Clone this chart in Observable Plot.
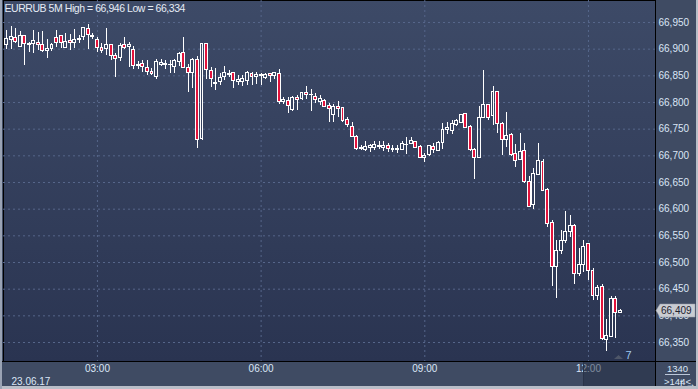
<!DOCTYPE html>
<html><head><meta charset="utf-8">
<script src="https://cdn.jsdelivr.net/npm/d3@7"></script>
<script src="https://cdn.jsdelivr.net/npm/@observablehq/plot@0.6"></script>
<style>
html,body{margin:0;padding:0;background:#3f4b63;}
#chart{width:698px;height:389px;overflow:hidden;}
.ttl text{letter-spacing:-0.45px;}
</style></head><body><div id="chart"></div>
<script>
const times = [
"01:15","01:20","01:25","01:30","01:35","01:40","01:45","01:50","01:55",
"02:00","02:05","02:10","02:15","02:20","02:25","02:30","02:35","02:40","02:45","02:50","02:55",
"03:00","03:05","03:10","03:15","03:20","03:25","03:30","03:35","03:40","03:45","03:50","03:55",
"04:00","04:05","04:10","04:15","04:20","04:25","04:30","04:35","04:40","04:45","04:50","04:55",
"05:00","05:05","05:10","05:15","05:20","05:25","05:30","05:35","05:40","05:45","05:50","05:55",
"06:00","06:05","06:10","06:15","06:20","06:25","06:30","06:35","06:40","06:45","06:50","06:55",
"07:00","07:05","07:10","07:15","07:20","07:25","07:30","07:35","07:40","07:45","07:50","07:55",
"08:00","08:05","08:10","08:15","08:20","08:25","08:30","08:35","08:40","08:45","08:50","08:55",
"09:00","09:05","09:10","09:15","09:20","09:25","09:30","09:35","09:40","09:45","09:50","09:55",
"10:00","10:05","10:10","10:15","10:20","10:25","10:30","10:35","10:40","10:45","10:50","10:55",
"11:00","11:05","11:10","11:15","11:20","11:25","11:30","11:35","11:40","11:45","11:50","11:55",
"12:00","12:05","12:10","12:15","12:20","12:25","12:30","12:35"
];
const open = [
66.883,66.908,66.918,66.921,66.905,66.925,66.908,66.910,66.912,
66.907,66.897,66.900,66.921,66.924,66.902,66.916,66.911,66.917,66.922,66.938,66.923,
66.918,66.902,66.900,66.908,66.888,66.883,66.907,66.905,66.899,66.869,66.872,66.865,
66.857,66.847,66.871,66.871,66.870,66.867,66.876,66.892,66.865,66.855,66.880,66.732,
66.910,66.859,66.836,66.838,66.847,66.854,66.855,66.838,66.838,66.841,66.854,66.848,
66.852,66.846,66.854,66.850,66.854,66.801,66.802,66.786,66.809,66.807,66.818,66.814,
66.811,66.801,66.802,66.794,66.776,66.792,66.790,66.767,66.755,66.736,66.712,66.711,
66.715,66.715,66.719,66.715,66.718,66.711,66.711,66.711,66.720,66.722,66.726,66.717,
66.696,66.701,66.717,66.710,66.724,66.748,66.746,66.757,66.761,66.779,66.755,66.711,
66.696,66.771,66.796,66.774,66.819,66.760,66.729,66.739,66.703,66.693,66.709,66.651,
66.607,66.665,66.688,66.636,66.574,66.491,66.521,66.541,66.558,66.568,66.479,66.496,
66.534,66.485,66.438,66.455,66.355,66.360,66.432,66.405
];
const high = [
66.914,66.935,66.942,66.938,66.933,66.925,66.913,66.935,66.932,
66.933,66.919,66.910,66.935,66.925,66.929,66.927,66.937,66.925,66.940,66.946,66.930,
66.922,66.910,66.939,66.908,66.891,66.910,66.922,66.913,66.905,66.876,66.879,66.879,
66.863,66.880,66.880,66.878,66.878,66.880,66.894,66.922,66.872,66.882,66.886,66.909,
66.910,66.865,66.863,66.854,66.868,66.860,66.857,66.851,66.851,66.859,66.857,66.857,
66.855,66.854,66.855,66.857,66.861,66.810,66.810,66.811,66.813,66.819,66.830,66.824,
66.816,66.813,66.805,66.798,66.797,66.801,66.791,66.772,66.763,66.738,66.719,66.726,
66.722,66.726,66.726,66.726,66.724,66.719,66.719,66.726,66.735,66.735,66.727,66.719,
66.704,66.719,66.724,66.726,66.760,66.763,66.766,66.769,66.778,66.780,66.757,66.713,
66.793,66.860,66.797,66.830,66.821,66.763,66.782,66.741,66.721,66.741,66.723,66.661,
66.676,66.724,66.693,66.638,66.578,66.541,66.560,66.595,66.588,66.571,66.526,66.541,
66.535,66.488,66.457,66.459,66.394,66.436,66.436,66.411
];
const low = [
66.880,66.900,66.900,66.910,66.904,66.869,66.894,66.891,66.897,
66.893,66.883,66.896,66.904,66.901,66.901,66.897,66.901,66.910,66.916,66.900,66.919,
66.894,66.891,66.888,66.879,66.847,66.876,66.900,66.866,66.861,66.861,66.857,66.851,
66.851,66.844,66.868,66.861,66.854,66.854,66.867,66.865,66.819,66.826,66.713,66.729,
66.843,66.829,66.822,66.832,66.842,66.847,66.827,66.832,66.830,66.832,66.832,66.834,
66.832,66.844,66.838,66.844,66.797,66.796,66.780,66.784,66.785,66.804,66.805,66.784,
66.798,66.794,66.790,66.763,66.763,66.772,66.763,66.754,66.734,66.710,66.710,66.709,
66.707,66.710,66.711,66.709,66.707,66.707,66.704,66.710,66.703,66.721,66.713,66.696,
66.688,66.698,66.704,66.709,66.711,66.740,66.740,66.755,66.760,66.751,66.709,66.655,
66.696,66.771,66.766,66.757,66.742,66.701,66.716,66.698,66.679,66.691,66.649,66.603,
66.599,66.663,66.634,66.565,66.455,66.432,66.515,66.536,66.547,66.458,66.474,66.482,
66.466,66.429,66.429,66.354,66.334,66.359,66.357,66.404
];
const close = [
66.914,66.919,66.922,66.913,66.925,66.910,66.910,66.916,66.907,
66.896,66.900,66.907,66.912,66.911,66.913,66.912,66.918,66.920,66.940,66.927,66.924,
66.902,66.896,66.907,66.888,66.882,66.906,66.902,66.907,66.869,66.870,66.867,66.857,
66.854,66.876,66.875,66.872,66.871,66.877,66.891,66.865,66.855,66.880,66.730,66.909,
66.861,66.844,66.835,66.846,66.855,66.851,66.840,66.843,66.844,66.855,66.847,66.851,
66.849,66.852,66.849,66.855,66.801,66.804,66.793,66.809,66.805,66.818,66.814,66.815,
66.804,66.807,66.791,66.788,66.792,66.788,66.766,66.757,66.735,66.713,66.714,66.717,
66.719,66.721,66.716,66.719,66.713,66.713,66.713,66.722,66.721,66.727,66.715,66.696,
66.699,66.719,66.711,66.724,66.749,66.752,66.760,66.765,66.776,66.753,66.711,66.696,
66.771,66.796,66.771,66.819,66.760,66.729,66.738,66.702,66.691,66.707,66.651,66.605,
66.666,66.690,66.635,66.573,66.491,66.521,66.541,66.558,66.569,66.478,66.496,66.530,
66.485,66.438,66.452,66.357,66.363,66.432,66.405,66.409
];
const yTicks = [66.35,66.40,66.45,66.50,66.55,66.60,66.65,66.70,66.75,66.80,66.85,66.90,66.95];
const xTicks = ["03:00","06:00","09:00","12:00"];
const title = "EURRUB 5M High = 66,946 Low = 66,334";
const dateLabel = "23.06.17";
const lastPrice = 66.409;
const barsLabel = "7";
const infoTop = "1340";
const infoBottom = ">144<";

const toMin = s => { const [h, m] = s.split(":").map(Number); return h * 60 + m; };
const fmt = v => v.toFixed(3).replace(".", ",");
const pad = n => String(n).padStart(2, "0");
const fmtTime = m => pad(Math.floor(m / 60)) + ":" + pad(m % 60);
const data = times.map((t, i) => ({t: toMin(t), o: open[i], h: high[i], l: low[i], c: close[i]}));
const up = data.filter(d => d.c >= d.o);
const down = data.filter(d => d.c < d.o);

const RED = "#e2133c";
const GRID = "#56668a";
const TXT = "#dbe6f6";
const FONT = "'Liberation Sans', Arial, sans-serif";

const chart = Plot.plot({
  width: 698, height: 389,
  marginLeft: 3, marginRight: 43, marginTop: 0, marginBottom: 28,
  x: {type: "linear", domain: [76.7, 793.7]},
  y: {domain: [66.3144, 66.99125]},
  style: {background: "#3f4b63", color: TXT, fontFamily: FONT, fontSize: "10px"},
  marks: [
    Plot.frame({fill: "url(#bg)", stroke: "#000"}),
    Plot.gridY(yTicks, {stroke: GRID, strokeOpacity: 1, strokeDasharray: "2,3"}),
    Plot.gridX(xTicks.map(toMin), {stroke: GRID, strokeOpacity: 1, strokeDasharray: "2,3"}),
    Plot.ruleX(data, {x: "t", y1: "h", y2: d => Math.max(d.o, d.c), stroke: "#fff", strokeWidth: 1, clip: true, shapeRendering: "crispEdges"}),
    Plot.ruleX(data, {x: "t", y1: d => Math.min(d.o, d.c), y2: "l", stroke: "#fff", strokeWidth: 1, clip: true, shapeRendering: "crispEdges"}),
    Plot.rect(up, {x1: d => d.t - 1.6, x2: d => d.t + 1.6, y1: "o", y2: "c", fill: "none", stroke: "#fff", strokeWidth: 1, clip: true, shapeRendering: "crispEdges"}),
    Plot.rect(down, {x1: d => d.t - 1.6, x2: d => d.t + 1.6, y1: "o", y2: "c", fill: RED, stroke: "#fff", strokeWidth: 1, clip: true, shapeRendering: "crispEdges"}),
    Plot.axisY(yTicks, {anchor: "right", tickSize: 0, tickPadding: 3, tickFormat: fmt, fill: TXT, fontSize: 10}),
    Plot.axisX(xTicks.map(toMin), {anchor: "bottom", tickSize: 0, tickPadding: 3, tickFormat: fmtTime, fill: TXT, fontSize: 10}),
    Plot.text([title], {frameAnchor: "top-left", dx: 1, dy: 8, textAnchor: "start", lineAnchor: "middle", fill: "#e6ecf5", fontSize: 10.5, className: "ttl"}),
    Plot.text([dateLabel], {frameAnchor: "bottom-left", dx: 8, dy: 20, textAnchor: "start", lineAnchor: "middle", fill: TXT, fontSize: 10}),
    Plot.text([barsLabel], {frameAnchor: "bottom-right", dx: -27, dy: -6, textAnchor: "middle", lineAnchor: "middle", fill: "#9fc8f0", fontSize: 11}),
    Plot.text([infoTop], {frameAnchor: "bottom-right", dx: 22, dy: 7, textAnchor: "middle", lineAnchor: "middle", fill: TXT, fontSize: 9.5}),
    Plot.text([infoBottom], {frameAnchor: "bottom-right", dx: 22, dy: 20, textAnchor: "middle", lineAnchor: "middle", fill: TXT, fontSize: 9.5})
  ]
});

const svg = d3.select(chart);
const defs = svg.insert("defs", ":first-child");
const g = defs.append("linearGradient").attr("id", "bg").attr("x1", 0).attr("y1", 0).attr("x2", 0).attr("y2", 1);
g.append("stop").attr("offset", "0%").attr("stop-color", "#3d4a67");
g.append("stop").attr("offset", "100%").attr("stop-color", "#2a3451");

// small marker left of the bar counter
svg.append("path").attr("d", "M614,359 L618.5,355 L623,359 Z").attr("fill", "#4e5668");
// bottom-right scroll overlay
svg.append("rect").attr("x", 583).attr("y", 362).attr("width", 72).attr("height", 24)
  .attr("fill", "#222b42").attr("fill-opacity", 0.5);
svg.append("line").attr("x1", 583.5).attr("x2", 583.5).attr("y1", 362).attr("y2", 386).attr("stroke", "#2a3348");
// separators
svg.append("line").attr("x1", 0).attr("x2", 698).attr("y1", 361.5).attr("y2", 361.5).attr("stroke", "#000");
svg.append("line").attr("x1", 655.5).attr("x2", 655.5).attr("y1", 0).attr("y2", 386).attr("stroke", "#000");
// underline in info box
svg.append("line").attr("x1", 665).attr("x2", 690).attr("y1", 374.5).attr("y2", 374.5).attr("stroke", TXT).attr("stroke-width", 0.8);
// window border
svg.append("rect").attr("x", 0).attr("y", 386).attr("width", 698).attr("height", 3).attr("fill", "#b9bec8");
svg.append("rect").attr("x", 696).attr("y", 0).attr("width", 2).attr("height", 389).attr("fill", "#b9bec8");
svg.append("rect").attr("x", 0).attr("y", 0).attr("width", 2).attr("height", 389).attr("fill", "#9aa3b4");
// last price tag (covers the 66,400 tick label as in the reference)
const yp = chart.scale("y").apply(lastPrice);
svg.append("path").attr("d", `M656,${yp} L660,${yp - 6.5} L695,${yp - 6.5} L695,${yp + 6.5} L660,${yp + 6.5} Z`)
  .attr("fill", "#c9ccd2").attr("stroke", "#9aa0aa").attr("stroke-width", 0.5);
svg.append("text").attr("x", 661).attr("y", yp).attr("dy", "0.35em").attr("fill", "#1e2230")
  .attr("text-anchor", "start").attr("font-size", 10).attr("font-family", FONT).text(fmt(lastPrice));

document.getElementById("chart").appendChild(chart);
</script></body></html>
